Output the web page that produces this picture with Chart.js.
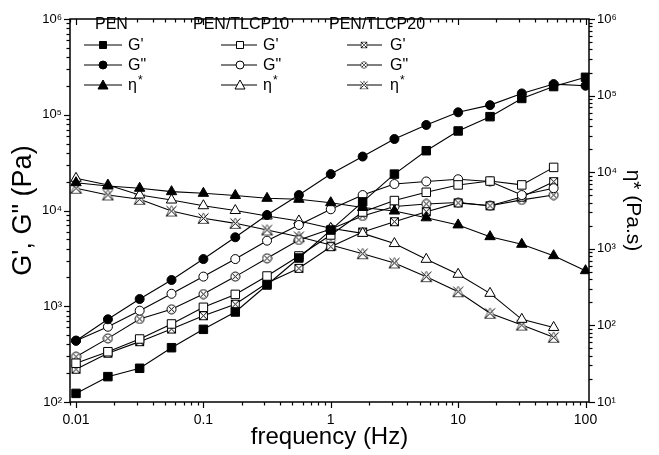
<!DOCTYPE html>
<html>
<head>
<meta charset="utf-8">
<script src="https://cdn.jsdelivr.net/npm/chart.js@4.4.1/dist/chart.umd.min.js"></script>
<style>
  html, body { margin: 0; padding: 0; background: #fff; }
</style>
</head>
<body>
<canvas id="grafico" width="659" height="455"></canvas>
<script>
// frecuencias (Hz)
const frecuencias = [0.01, 0.0178, 0.0316, 0.0562, 0.1, 0.178, 0.316, 0.562, 1, 1.78, 3.16, 5.62, 10, 17.8, 31.6, 56.2, 100];

// PEN
const penG1 = [123, 184, 225, 369, 574, 871, 1667, 3190, 6250, 12300, 24000, 42100, 67700, 95500, 148000, 197000, 246000];
const penG2 = [437, 731, 1190, 1880, 3110, 5250, 8970, 14500, 24000, 36600, 55800, 78200, 106000, 126000, 167000, 209000, 201000];
const penEta = [7290, 6610, 6170, 5570, 5300, 4970, 4560, 4430, 4000, 3460, 3110, 2540, 2050, 1440, 1145, 813, 518];

// PEN/TLCP10
const t10G1 = [254, 335, 455, 653, 975, 1330, 2070, 3350, 5550, 9640, 12700, 15500, 18500, 20300, 18500, 28200];
const t10G2 = [437, 611, 899, 1350, 2040, 3110, 4840, 7060, 10300, 14500, 18900, 20100, 21200, 20100, 14500, 17100];
const t10Eta = [8320, 6800, 5040, 4330, 3650, 3160, 2680, 2310, 1850, 1590, 1170, 729, 465, 262, 120, 94];

// PEN/TLCP20
const t20G1 = [220, 323, 427, 578, 796, 1050, 1750, 2490, 4190, 5960, 7640, 9710, 12000, 11200, 13800, 20000];
const t20G2 = [297, 462, 736, 929, 1340, 2040, 3170, 4920, 6410, 8770, 11000, 11700, 12100, 11200, 12900, 14500];
const t20Eta = [6170, 5040, 4430, 3110, 2500, 2150, 1760, 1440, 1120, 863, 653, 433, 275, 144, 101, 70];

// etiquetas de los ejes
const etiquetasX = {'-2': '0.01', '-1': '0.1', '0': '1', '1': '10', '2': '100'};
const superindices = {1: '¹', 2: '²', 3: '³', 4: '⁴', 5: '⁵', 6: '⁶'};

const FUENTE = '"Liberation Sans", Arial, sans-serif';

// marcadores dibujados a mano (cuadro con X, circulo con X, triangulo con X)
function marcaCuadroX() {
  const c = document.createElement('canvas');
  c.width = 11; c.height = 11;
  const g = c.getContext('2d');
  g.fillStyle = '#fff'; g.fillRect(1, 1, 9, 9);
  g.strokeStyle = '#000'; g.lineWidth = 1;
  g.strokeRect(1.5, 1.5, 8, 8);
  g.beginPath();
  g.moveTo(1.5, 1.5); g.lineTo(9.5, 9.5);
  g.moveTo(9.5, 1.5); g.lineTo(1.5, 9.5);
  g.stroke();
  return c;
}
function marcaCirculoX() {
  const c = document.createElement('canvas');
  c.width = 11; c.height = 11;
  const g = c.getContext('2d');
  g.fillStyle = '#fff'; g.strokeStyle = '#000'; g.lineWidth = 1;
  g.beginPath(); g.arc(5.5, 5.5, 4.5, 0, Math.PI * 2); g.fill(); g.stroke();
  g.beginPath();
  g.moveTo(2.3, 2.3); g.lineTo(8.7, 8.7);
  g.moveTo(8.7, 2.3); g.lineTo(2.3, 8.7);
  g.stroke();
  return c;
}
function marcaTrianguloX() {
  const c = document.createElement('canvas');
  c.width = 13; c.height = 13;
  const g = c.getContext('2d');
  g.fillStyle = '#fff'; g.strokeStyle = '#555'; g.lineWidth = 1;
  g.beginPath(); g.moveTo(6.5, 1); g.lineTo(12, 11.5); g.lineTo(1, 11.5); g.closePath();
  g.fill(); g.stroke();
  g.strokeStyle = '#000';
  g.beginPath();
  g.moveTo(1.5, 1.5); g.lineTo(11.5, 11.5);
  g.moveTo(11.5, 1.5); g.lineTo(1.5, 11.5);
  g.stroke();
  return c;
}
const imgCuadroX = marcaCuadroX();
const imgCirculoX = marcaCirculoX();
const imgTrianguloX = marcaTrianguloX();

function serie(nombre, valores, eje, estilo, relleno, radio) {
  return {
    label: nombre,
    data: valores.map((v, i) => ({x: frecuencias[i], y: v})),
    yAxisID: eje,
    borderColor: '#000',
    borderWidth: 1.1,
    pointStyle: estilo,
    pointRadius: radio,
    pointBackgroundColor: relleno,
    pointBorderColor: '#000',
    pointBorderWidth: 1,
    fill: false,
    tension: 0
  };
}

const conjuntos = [
  serie("PEN G'", penG1, 'y', 'rect', '#000', 6),
  serie('PEN G"', penG2, 'y', 'circle', '#000', 4.5),
  serie('PEN η*', penEta, 'y2', 'triangle', '#000', 6),
  serie("PEN/TLCP10 G'", t10G1, 'y', 'rect', '#fff', 6),
  serie('PEN/TLCP10 G"', t10G2, 'y', 'circle', '#fff', 4.5),
  serie('PEN/TLCP10 η*', t10Eta, 'y2', 'triangle', '#fff', 6),
  serie("PEN/TLCP20 G'", t20G1, 'y', imgCuadroX, '#fff', 6),
  serie('PEN/TLCP20 G"', t20G2, 'y', imgCirculoX, '#fff', 6),
  serie('PEN/TLCP20 η*', t20Eta, 'y2', imgTrianguloX, '#fff', 6)
];

function esPotencia(v) {
  const e = Math.log10(v);
  return Math.abs(e - Math.round(e)) < 1e-6;
}

// valores de las marcas menores/mayores en escala log
function marcasLog(escala) {
  const res = [];
  const d0 = Math.floor(Math.log10(escala.min));
  const d1 = Math.ceil(Math.log10(escala.max));
  for (let d = d0; d <= d1; d++) {
    for (let m = 1; m <= 9; m++) {
      const v = m * Math.pow(10, d);
      if (v >= escala.min * 1.001 && v <= escala.max * 0.999) res.push([v, m === 1]);
      else if (m === 1 && Math.abs(Math.log10(v / escala.min)) < 1e-6) res.push([v, true]);
      else if (m === 1 && Math.abs(Math.log10(v / escala.max)) < 1e-6) res.push([v, true]);
    }
  }
  return res;
}

const marco = {
  id: 'marco',
  afterDatasetsDraw(chart) {
    const {ctx, chartArea: a, scales} = chart;
    ctx.save();
    ctx.strokeStyle = '#000';
    const linea = (x0, y0, x1, y1) => {
      ctx.beginPath(); ctx.moveTo(x0, y0); ctx.lineTo(x1, y1); ctx.stroke();
    };
    ctx.lineWidth = 1.2;
    marcasLog(scales.x).forEach(([v, mayor]) => {
      const px = Math.round(scales.x.getPixelForValue(v)) + 0.5;
      const l = mayor ? 6 : 3.5;
      linea(px, a.bottom, px, a.bottom + l);
      linea(px, a.top, px, a.top + l);
    });
    marcasLog(scales.y).forEach(([v, mayor]) => {
      const py = Math.round(scales.y.getPixelForValue(v)) + 0.5;
      const l = mayor ? 6 : 3.5;
      linea(a.left - l, py, a.left, py);
    });
    marcasLog(scales.y2).forEach(([v, mayor]) => {
      const py = Math.round(scales.y2.getPixelForValue(v)) + 0.5;
      const l = mayor ? 6 : 3.5;
      linea(a.right, py, a.right + l, py);
    });
    ctx.lineWidth = 1.5;
    ctx.strokeRect(a.left, a.top, a.right - a.left, a.bottom - a.top);
    ctx.restore();
  },
  afterDraw(chart) {
    const ctx = chart.ctx;
    ctx.save();
    ctx.fillStyle = '#000';
    ctx.strokeStyle = '#000';
    ctx.textBaseline = 'middle';
    const columnas = [
      {titulo: 'PEN', tx: 95, l0: 84, m: 103, l1: 122, et: 128},
      {titulo: 'PEN/TLCP10', tx: 193, l0: 221, m: 240, l1: 257, et: 263},
      {titulo: 'PEN/TLCP20', tx: 329, l0: 347, m: 364, l1: 382, et: 390}
    ];
    const filas = [45, 65, 85];
    const nombres = ["G'", 'G"', 'η'];
    columnas.forEach((c, ci) => {
      ctx.font = '16px ' + FUENTE;
      ctx.fillText(c.titulo, c.tx, 25);
      filas.forEach((fy, fi) => {
        ctx.lineWidth = 1.1;
        ctx.beginPath(); ctx.moveTo(c.l0, fy); ctx.lineTo(c.l1, fy); ctx.stroke();
        dibujarMarca(ctx, ci, fi, c.m, fy);
        ctx.font = '16px ' + FUENTE;
        ctx.fillText(nombres[fi], c.et, fy + 1);
        if (fi === 2) {
          const w = ctx.measureText('η').width;
          ctx.font = '12px ' + FUENTE;
          ctx.fillText('*', c.et + w + 1, fy - 4);
        }
      });
    });
    ctx.restore();
  }
};

function dibujarMarca(ctx, col, fila, x, y) {
  ctx.lineWidth = 1;
  if (col === 2) {
    const img = [imgCuadroX, imgCirculoX, imgTrianguloX][fila];
    const s = fila === 2 ? 10 : 8;
    ctx.drawImage(img, x - s / 2, y - s / 2, s, s);
    return;
  }
  ctx.fillStyle = col === 0 ? '#000' : '#fff';
  ctx.beginPath();
  if (fila === 0) ctx.rect(x - 3.5, y - 3.5, 7, 7);
  else if (fila === 1) ctx.arc(x, y, 4, 0, Math.PI * 2);
  else { ctx.moveTo(x, y - 5); ctx.lineTo(x + 5, y + 4); ctx.lineTo(x - 5, y + 4); ctx.closePath(); }
  ctx.fill();
  ctx.stroke();
  ctx.fillStyle = '#000';
}

const ctx = document.getElementById('grafico').getContext('2d');
new Chart(ctx, {
  type: 'line',
  data: {datasets: conjuntos},
  plugins: [marco],
  options: {
    responsive: false,
    animation: false,
    devicePixelRatio: 1,
    layout: {padding: {top: 19, left: 0, right: 0, bottom: 0}},
    plugins: {legend: {display: false}, tooltip: {enabled: false}},
    scales: {
      x: {
        type: 'logarithmic',
        min: 0.00897,
        max: 106.5,
        grid: {display: false, drawTicks: false},
        border: {display: false},
        ticks: {
          autoSkip: false, maxRotation: 0, minRotation: 0, padding: 10,
          color: '#000', font: {family: FUENTE, size: 14},
          callback: (v) => esPotencia(v) ? etiquetasX[Math.round(Math.log10(v))] || '' : ''
        },
        title: {display: true, text: 'frequency (Hz)', color: '#000', font: {family: FUENTE, size: 24}, padding: {top: 0, bottom: 3}},
        afterFit: (s) => { s.height = 53; }
      },
      y: {
        type: 'logarithmic',
        position: 'left',
        min: 100,
        max: 1000000,
        grid: {display: false, drawTicks: false},
        border: {display: false},
        ticks: {
          autoSkip: false, padding: 8,
          color: '#000', font: {family: FUENTE, size: 13},
          callback: (v) => esPotencia(v) ? '10' + superindices[Math.round(Math.log10(v))] : ''
        },
        title: {display: true, text: 'G\', G" (Pa)', color: '#000', font: {family: FUENTE, size: 27}, padding: {top: 7, bottom: 0}},
        afterFit: (s) => { s.width = 70; }
      },
      y2: {
        type: 'logarithmic',
        position: 'right',
        min: 10,
        max: 1000000,
        grid: {display: false, drawTicks: false},
        border: {display: false},
        ticks: {
          autoSkip: false, padding: 8,
          color: '#000', font: {family: FUENTE, size: 13},
          callback: (v) => esPotencia(v) ? '10' + superindices[Math.round(Math.log10(v))] : ''
        },
        title: {display: true, text: 'η* (Pa.s)', color: '#000', font: {family: FUENTE, size: 21}, padding: {top: 14, bottom: 0}},
        afterFit: (s) => { s.width = 70; }
      }
    }
  }
});
</script>
</body>
</html>
